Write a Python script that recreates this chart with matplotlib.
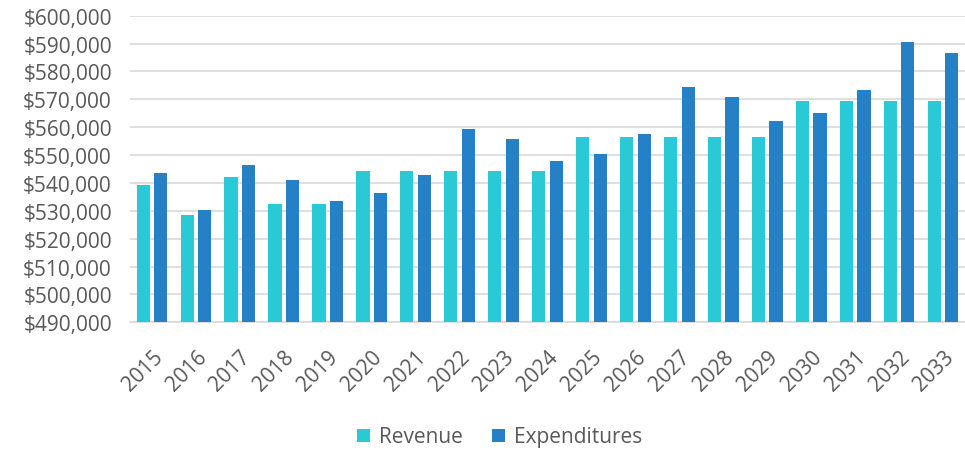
import numpy as np
import matplotlib
matplotlib.use("Agg")
import matplotlib.pyplot as plt
from matplotlib.ticker import FuncFormatter

# ── data ──────────────────────────────────────────────────────────────────────
years = [str(y) for y in range(2015, 2034)]
revenue = [539300, 528600, 542000, 532600, 532600, 544300, 544300, 544300,
           544300, 544300, 556600, 556600, 556600, 556600, 556600, 569500,
           569500, 569500, 569500]
expenditures = [543500, 530200, 546300, 541100, 533500, 536300, 543000, 559300,
                555800, 547800, 550500, 557600, 574300, 571000, 562400, 565200,
                573400, 590400, 586700]

# ── style ─────────────────────────────────────────────────────────────────────
plt.rcParams["font.family"] = ["Open Sans", "DejaVu Sans"]
TEXT = "#595959"
REV_C = "#29C9D5"
EXP_C = "#2680C6"

fig = plt.figure(figsize=(9.65, 4.52), dpi=100)
ax = fig.add_axes([0.1347, 0.2847, 0.8653, 0.6783])

x = np.arange(len(years))
w = 0.3
ax.bar(x - 0.2, revenue, width=w, color=REV_C, label="Revenue", zorder=3)
ax.bar(x + 0.2, expenditures, width=w, color=EXP_C, label="Expenditures", zorder=3)

ax.set_ylim(490000, 600000)
ax.set_xlim(-0.5, len(years) - 0.5)
ax.set_yticks(np.arange(490000, 600001, 10000))
ax.yaxis.set_major_formatter(FuncFormatter(lambda v, p: f"${v:,.0f}"))
ax.set_xticks(x)
ax.set_xticklabels(years, rotation=45, ha="right", rotation_mode="anchor")

ax.grid(axis="y", color="#D9D9D9", linewidth=1.2, zorder=0)
for s in ["top", "right", "left"]:
    ax.spines[s].set_visible(False)
ax.spines["bottom"].set_color("#D9D9D9")
ax.spines["bottom"].set_linewidth(1.2)
ax.tick_params(axis="both", length=0, labelsize=15, colors=TEXT)
ax.tick_params(axis="y", pad=13)
ax.tick_params(axis="x", pad=17)

fig.legend(loc="center", bbox_to_anchor=(500 / 965, 1 - 438 / 452), ncol=2, frameon=False,
           fontsize=15, labelcolor=TEXT, handlelength=0.6, handleheight=0.6,
           handletextpad=0.45, columnspacing=1.4)

fig.savefig("out.png", dpi=100)
